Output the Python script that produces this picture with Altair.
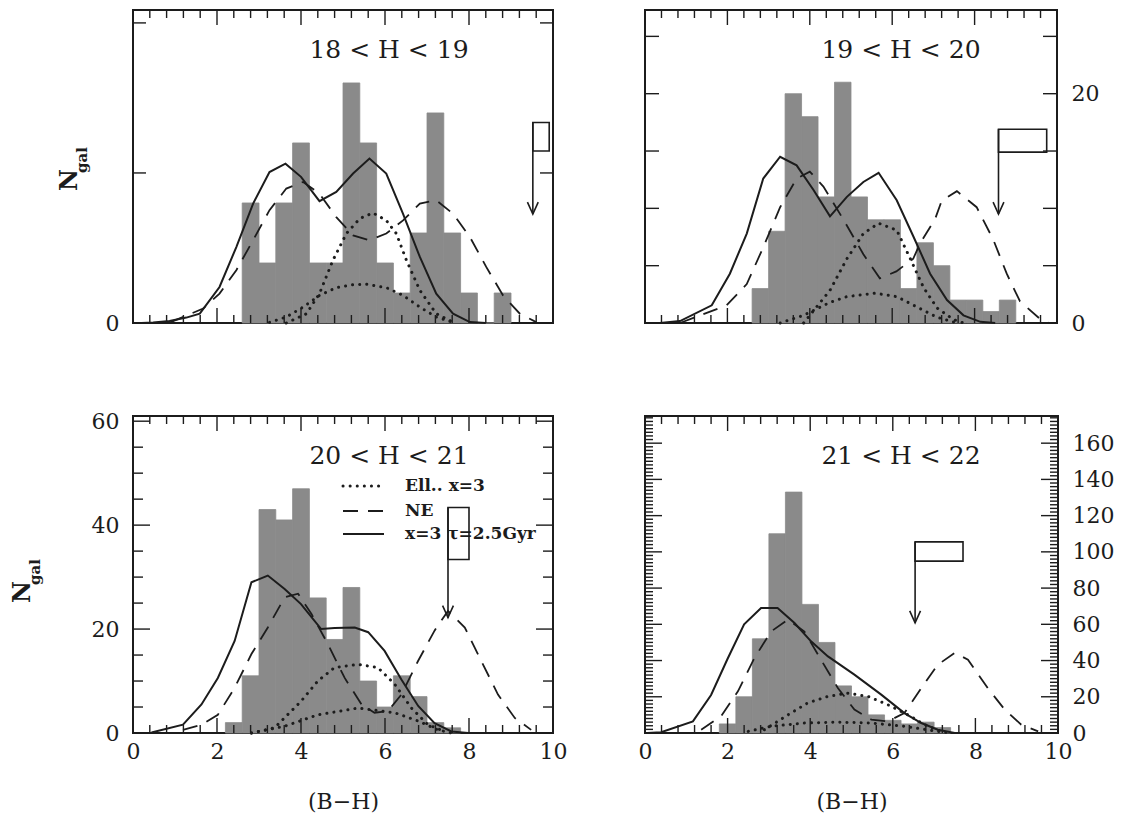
import altair as alt
import pandas as pd

FONT = "DejaVu Serif"
INK = "#1c1c1c"
BAR = "#8a8a8a"

# ------------------------------------------------------------------ data
panel_titles = ["18 < H < 19", "19 < H < 20", "20 < H < 21", "21 < H < 22"]
bin_width = 0.4

# histogram counts (bins of 0.4 in B-H)
h1_start = 2.6
h1_counts = [4, 2, 4, 6, 2, 2, 8, 6, 2, 1, 3, 7, 3, 1, 0, 1]
h2_start = 2.6
h2_counts = [3, 8, 20, 18, 11, 21, 11, 9, 9, 3, 7, 5, 2, 2, 1, 2]
h3_start = 2.2
h3_counts = [2, 11, 43, 41, 47, 26, 18, 28, 10, 5, 11, 7, 2, 1]
h4_start = 1.8
h4_counts = [5, 20, 52, 110, 133, 71, 50, 26, 20, 10, 7, 5, 6, 3]

# model curves: solid (x=3, tau=2.5Gyr), dashed (NE), dotted (Ell. x=3, two curves)
p1_solid_x = [0.2, 0.48, 0.87, 1.27, 1.59, 2.06, 2.46, 2.86, 3.25, 3.63, 4.0, 4.44, 4.84, 5.24, 5.63, 6.03, 6.43, 6.83, 7.22, 7.62, 8.02, 8.4]
p1_solid_y = [0.0, 0.02, 0.07, 0.18, 0.31, 1.2, 2.53, 3.98, 5.03, 5.31, 4.87, 4.06, 4.37, 4.98, 5.48, 4.98, 3.64, 2.2, 0.98, 0.31, 0.03, 0.0]
p1_dash_x = [0.87, 1.67, 2.06, 2.46, 2.86, 3.25, 3.65, 4.05, 4.44, 4.84, 5.24, 5.63, 6.03, 6.43, 6.83, 7.22, 7.62, 8.02, 8.41, 8.81, 9.21, 9.6]
p1_dash_y = [0.01, 0.48, 0.98, 1.76, 2.76, 3.76, 4.48, 4.7, 4.31, 3.53, 2.92, 2.76, 2.98, 3.42, 3.98, 4.09, 3.64, 2.87, 1.87, 0.92, 0.31, 0.03]
p1_dotA_x = [3.65, 4.13, 4.44, 4.76, 5.08, 5.4, 5.71, 6.03, 6.27, 6.51, 6.83, 7.22, 7.62]
p1_dotA_y = [0.0, 0.31, 0.98, 2.09, 2.98, 3.48, 3.67, 3.42, 2.98, 2.09, 1.09, 0.31, 0.03]
p1_dotB_x = [3.25, 3.65, 4.05, 4.44, 4.84, 5.24, 5.56, 6.03, 6.43, 6.83, 7.22, 7.62]
p1_dotB_y = [0.02, 0.2, 0.53, 0.92, 1.18, 1.28, 1.29, 1.18, 0.92, 0.53, 0.2, 0.02]

p2_solid_x = [0.36, 0.85, 1.62, 2.06, 2.47, 2.87, 3.28, 3.68, 4.09, 4.49, 4.9, 5.3, 5.67, 6.11, 6.52, 6.92, 7.33, 7.73, 8.14, 8.5]
p2_solid_y = [0.0, 0.17, 1.54, 4.3, 7.8, 12.6, 14.5, 13.75, 11.6, 9.3, 11.0, 12.3, 13.1, 10.7, 7.5, 4.3, 2.0, 0.67, 0.1, 0.0]
p2_dash_x = [0.85, 1.98, 2.47, 2.87, 3.28, 3.68, 4.0, 4.33, 4.82, 5.3, 5.7, 6.1, 6.51, 6.67, 7.04, 7.2, 7.57, 8.05, 8.45, 8.78, 9.1, 9.59, 9.8]
p2_dash_y = [0.0, 1.54, 3.4, 6.6, 10.1, 12.6, 13.2, 11.9, 9.0, 6.0, 3.9, 4.5, 5.6, 6.9, 9.06, 10.65, 11.5, 10.1, 7.3, 4.3, 1.9, 0.35, 0.0]
p2_dotA_x = [3.85, 4.49, 4.9, 5.3, 5.67, 6.11, 6.44, 6.76, 7.09, 7.49, 7.73]
p2_dotA_y = [0.0, 2.85, 5.6, 7.8, 8.7, 8.1, 5.6, 3.1, 1.3, 0.3, 0.0]
p2_dotB_x = [3.28, 3.85, 4.49, 4.9, 5.59, 6.11, 6.6, 7.09, 7.57]
p2_dotB_y = [0.0, 0.67, 1.8, 2.3, 2.6, 2.3, 1.4, 0.5, 0.0]

p3_solid_x = [0.44, 1.19, 1.63, 2.02, 2.42, 2.82, 3.21, 3.61, 4.0, 4.48, 4.8, 5.28, 5.6, 5.99, 6.39, 6.79, 7.18, 7.58, 7.98]
p3_solid_y = [0.1, 1.6, 5.5, 10.6, 17.7, 29.0, 30.3, 27.7, 24.8, 20.0, 20.2, 20.3, 19.4, 15.8, 10.3, 5.2, 1.9, 0.3, 0.0]
p3_dash_x = [1.19, 1.63, 2.02, 2.42, 2.82, 3.21, 3.61, 3.93, 4.25, 4.64, 5.04, 5.44, 5.75, 6.07, 6.39, 6.79, 7.18, 7.5, 7.9, 8.29, 8.69, 9.09, 9.48]
p3_dash_y = [0.6, 1.6, 3.5, 8.7, 15.2, 20.3, 26.1, 26.8, 22.9, 17.1, 10.6, 5.5, 3.9, 4.2, 7.4, 13.9, 19.7, 23.5, 20.3, 13.9, 7.4, 2.9, 0.6]
p3_dotA_x = [2.82, 3.37, 4.0, 4.4, 4.8, 5.36, 5.83, 6.23, 6.63, 7.02, 7.42]
p3_dotA_y = [0.0, 1.0, 6.1, 10.0, 12.6, 13.2, 12.6, 9.4, 4.8, 1.6, 0.3]
p3_dotB_x = [2.82, 3.61, 4.4, 5.36, 6.23, 6.79, 7.26, 7.58]
p3_dotB_y = [0.0, 1.3, 3.5, 4.8, 3.9, 2.3, 0.6, 0.0]

p4_solid_x = [0.06, 0.39, 1.16, 1.6, 2.0, 2.4, 2.81, 3.21, 3.62, 4.02, 4.43, 5.07, 5.72, 6.28, 6.69, 7.09, 7.5]
p4_solid_y = [0.0, 0.4, 6.4, 21.0, 41.0, 60.0, 69.0, 69.0, 60.7, 50.6, 42.3, 32.2, 21.2, 11.0, 5.5, 1.8, 0.0]
p4_dash_x = [1.36, 1.84, 2.25, 2.65, 3.05, 3.46, 3.86, 4.26, 4.67, 5.07, 5.48, 5.88, 6.28, 6.69, 7.09, 7.5, 7.82, 8.3, 8.71, 9.11, 9.52]
p4_dash_y = [1.8, 9.2, 23.0, 41.4, 56.0, 62.6, 56.0, 40.5, 24.8, 12.9, 7.4, 6.4, 11.0, 24.8, 37.7, 44.2, 40.5, 24.8, 12.9, 4.6, 0.9]
p4_dotA_x = [2.89, 3.46, 3.94, 4.43, 4.91, 5.4, 5.88, 6.37, 6.77, 7.17]
p4_dotA_y = [1.8, 10.0, 16.6, 20.2, 22.0, 20.2, 15.6, 10.0, 4.6, 0.9]
p4_dotB_x = [2.5, 3.05, 3.86, 4.67, 5.48, 6.28, 7.09, 7.4]
p4_dotB_y = [0.9, 3.7, 5.5, 6.0, 5.5, 3.7, 0.9, 0.0]

# flag markers: pole x, flag right edge, flag top, flag bottom, arrow tip
flag_x = [9.52, 8.58, 7.5, 6.54]
flag_x2 = [9.91, 9.75, 8.0, 7.7]
flag_top = [6.68, 16.9, 43.4, 105.5]
flag_bottom = [5.73, 14.9, 33.4, 94.9]
flag_tip = [3.63, 9.5, 22.2, 60.8]

legend_labels = ["Ell.. x=3", "NE", "x=3 \u03c4=2.5Gyr"]
x_title = "(B\u2212H)"
y_title_main = "N"
y_title_sub = "gal"

x_major = [0, 2, 4, 6, 8, 10]
x_minor = [round(i * 0.4, 1) for i in range(1, 25) if i % 5]

# ------------------------------------------------------------------ helpers
DOT = dict(strokeDash=[0.1, 7], strokeCap="round", strokeWidth=3)
DASH = dict(strokeDash=[15, 10], strokeWidth=1.8)
SOLID = dict(strokeWidth=2)


def make_panel(idx, w, h, ymax, y_major, y_minor, y_labels, y_orient, show_x,
               counts, bstart, curves, ngal=None, legend=False,
               ymaj_len=14, ymin_len=8):
    xs = alt.Scale(domain=[0, 10], nice=False, zero=False)
    ys = alt.Scale(domain=[0, ymax], nice=False, zero=False)
    if show_x:
        xa = alt.Axis(values=x_major, ticks=False, domain=False, grid=False,
                      labelFont=FONT, labelFontSize=22, labelColor=INK,
                      labelPadding=8, labelFlush=False, title=x_title,
                      titleFont=FONT, titleFontSize=22, titleFontWeight="normal",
                      titleColor=INK, titlePadding=29)
    else:
        xa = None
    ya = alt.Axis(orient=y_orient, values=y_labels, ticks=False, domain=False,
                  grid=False, labelFont=FONT, labelFontSize=22, labelColor=INK,
                  labelPadding=14, labelFlush=False, title=None)

    def X(f):
        return alt.X(f, type="quantitative", scale=xs, axis=xa)

    def Y(f):
        return alt.Y(f, type="quantitative", scale=ys, axis=ya)

    layers = []
    bars = pd.DataFrame({
        "x": [bstart + i * bin_width for i in range(len(counts))],
        "x2": [bstart + (i + 1) * bin_width for i in range(len(counts))],
        "y": counts,
    })
    layers.append(alt.Chart(bars).mark_rect(color=BAR, stroke=BAR, strokeWidth=0.8).encode(
        x=X("x"), x2="x2", y=Y("y"), y2=alt.datum(0)))

    (sx, sy), (dx, dy), (ax, ay), (bx, by) = curves
    dots = pd.DataFrame({"x": ax + bx, "y": ay + by,
                         "part": ["a"] * len(ax) + ["b"] * len(bx)})
    layers.append(alt.Chart(dots).mark_line(color=INK, **DOT).encode(
        x=X("x"), y=Y("y"), detail="part:N"))
    layers.append(alt.Chart(pd.DataFrame({"x": dx, "y": dy})).mark_line(
        color=INK, **DASH).encode(x=X("x"), y=Y("y")))
    layers.append(alt.Chart(pd.DataFrame({"x": sx, "y": sy})).mark_line(
        color=INK, **SOLID).encode(x=X("x"), y=Y("y")))

    # flag
    fl = pd.DataFrame({"x": [flag_x[idx]], "x2": [flag_x2[idx]],
                       "y": [flag_top[idx]], "y2": [flag_bottom[idx]],
                       "tip": [flag_tip[idx]]})
    layers.append(alt.Chart(fl).mark_rect(fillOpacity=0, stroke=INK, strokeWidth=1.6).encode(
        x=X("x"), x2="x2", y=Y("y"), y2="y2"))
    layers.append(alt.Chart(fl).mark_rule(color=INK, strokeWidth=1.6).encode(
        x=X("x"), y=Y("y"), y2="tip"))
    layers.append(alt.Chart(fl).mark_point(
        shape="M-0.45,-1L0,0L0.45,-1", size=576, filled=False,
        stroke=INK, strokeWidth=1.6, opacity=1).encode(x=X("x"), y=Y("tip")))

    # inward ticks
    xt_maj = pd.DataFrame({"x": x_major})
    xt_min = pd.DataFrame({"x": x_minor})
    for df, L in ((xt_maj, 15), (xt_min, 8)):
        layers.append(alt.Chart(df).mark_rule(color=INK, strokeWidth=1.4).encode(
            x=X("x"), y=alt.value(h), y2=alt.value(h - L)))
        layers.append(alt.Chart(df).mark_rule(color=INK, strokeWidth=1.4).encode(
            x=X("x"), y=alt.value(0), y2=alt.value(L)))
    for vals, L in ((y_major, ymaj_len), (y_minor, ymin_len)):
        if not vals:
            continue
        df = pd.DataFrame({"y": vals})
        layers.append(alt.Chart(df).mark_rule(color=INK, strokeWidth=1.4).encode(
            y=Y("y"), x=alt.value(0), x2=alt.value(L)))
        layers.append(alt.Chart(df).mark_rule(color=INK, strokeWidth=1.4).encode(
            y=Y("y"), x=alt.value(w - L), x2=alt.value(w)))

    # panel title
    tdf = pd.DataFrame({"t": [panel_titles[idx]]})
    layers.append(alt.Chart(tdf).mark_text(
        font=FONT, fontSize=25, color=INK, align="center", baseline="middle").encode(
        x=alt.value(256), y=alt.value(40), text="t:N"))

    if ngal is not None:
        nx, ny = ngal
        layers.append(alt.Chart(pd.DataFrame({"t": [y_title_main]})).mark_text(
            font=FONT, fontSize=24, fontWeight="bold", color=INK, angle=270,
            align="center", baseline="middle").encode(
            x=alt.value(nx), y=alt.value(ny), text="t:N"))
        layers.append(alt.Chart(pd.DataFrame({"t": [y_title_sub]})).mark_text(
            font=FONT, fontSize=15, fontWeight="bold", color=INK, angle=270,
            align="center", baseline="middle").encode(
            x=alt.value(nx + 12), y=alt.value(ny - 20), text="t:N"))

    if legend:
        styles = [DOT, DASH, SOLID]
        ypos = [70, 95, 118]
        for lab, st, yy in zip(legend_labels, styles, ypos):
            one = pd.DataFrame({"t": [lab]})
            layers.append(alt.Chart(one).mark_rule(color=INK, **st).encode(
                x=alt.value(210), x2=alt.value(251), y=alt.value(yy)))
            layers.append(alt.Chart(one).mark_text(
                font=FONT, fontSize=17, fontWeight="bold", color=INK,
                align="left", baseline="middle").encode(
                x=alt.value(272), y=alt.value(yy), text="t:N"))

    return alt.layer(*layers).properties(width=w, height=h)


tl = make_panel(0, 420, 313, 10.43, [0, 5, 10], [], [0], "left", False,
                h1_counts, h1_start,
                [(p1_solid_x, p1_solid_y), (p1_dash_x, p1_dash_y),
                 (p1_dotA_x, p1_dotA_y), (p1_dotB_x, p1_dotB_y)],
                ngal=(-63, 170), ymaj_len=13)
tr = make_panel(1, 412, 313, 27.3, [0, 5, 10, 15, 20, 25], [], [0, 20], "right", False,
                h2_counts, h2_start,
                [(p2_solid_x, p2_solid_y), (p2_dash_x, p2_dash_y),
                 (p2_dotA_x, p2_dotA_y), (p2_dotB_x, p2_dotB_y)],
                ymaj_len=14)
bl = make_panel(2, 420, 317, 61.0, [0, 20, 40, 60],
                [v for v in range(5, 60, 5) if v % 20], [0, 20, 40, 60], "left", True,
                h3_counts, h3_start,
                [(p3_solid_x, p3_solid_y), (p3_dash_x, p3_dash_y),
                 (p3_dotA_x, p3_dotA_y), (p3_dotB_x, p3_dotB_y)],
                ngal=(-110, 176), legend=True, ymaj_len=17, ymin_len=10)
br = make_panel(3, 413, 317, 175.0, list(range(0, 180, 20)),
                [v for v in range(2, 175, 2) if v % 20], list(range(0, 180, 20)), "right", True,
                h4_counts, h4_start,
                [(p4_solid_x, p4_solid_y), (p4_dash_x, p4_dash_y),
                 (p4_dotA_x, p4_dotA_y), (p4_dotB_x, p4_dotB_y)],
                ymaj_len=17, ymin_len=8)

chart = alt.concat(
    tl, tr, bl, br, columns=2, spacing={"row": 93, "column": 92},
    bounds="flush", align="each",
).properties(
    padding={"left": 10, "top": 8, "right": 5, "bottom": 2},
    background="white",
).configure_view(stroke=INK, strokeWidth=2)

chart.save("out.html", embed_options={"renderer": "svg", "actions": False})
